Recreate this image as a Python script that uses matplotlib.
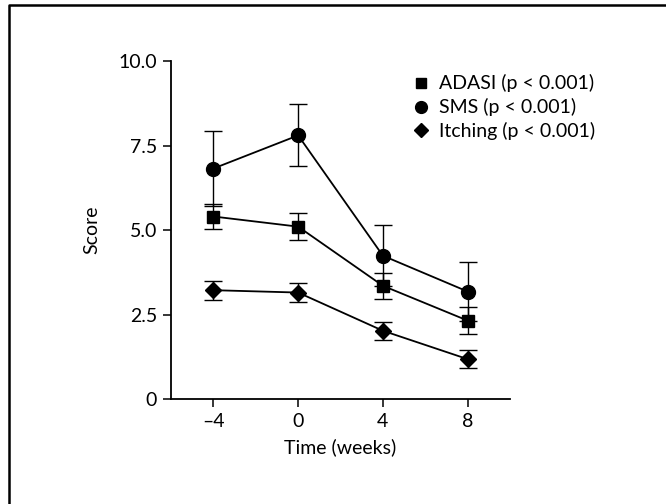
import numpy as np
import matplotlib.pyplot as plt
from matplotlib.lines import Line2D

plt.rcParams['font.family'] = ['Lato', 'DejaVu Sans']

weeks = [-4, 0, 4, 8]

adasi = [5.4, 5.1, 3.35, 2.32]
adasi_err = [0.38, 0.4, 0.38, 0.4]

sms = [6.82, 7.8, 4.24, 3.18]
sms_err = [1.12, 0.92, 0.9, 0.88]

itching = [3.22, 3.15, 2.02, 1.18]
itching_err = [0.28, 0.28, 0.27, 0.27]

labels = ['ADASI (p < 0.001)', 'SMS (p < 0.001)', 'Itching (p < 0.001)']
yticks = [0, 2.5, 5.0, 7.5, 10.0]
ytick_labels = ['0', '2.5', '5.0', '7.5', '10.0']

fs = 14

fig = plt.figure(figsize=(6.66, 5.04), dpi=100)
ax = fig.add_axes([0.2568, 0.2083, 0.509, 0.6706])

# outer frame of the figure panel
fig.add_artist(Line2D([0.013, 0.013, 1.0], [0.0, 0.99, 0.99], color='black', lw=1.8,
                      transform=fig.transFigure))

series = [
    (adasi, adasi_err, 's', 9),
    (sms, sms_err, 'o', 10),
    (itching, itching_err, 'D', 8.5),
]
for vals, err, mk, ms in series:
    ax.errorbar(weeks, vals, yerr=err, color='black', marker=mk, markersize=ms,
                lw=1.3, elinewidth=1.0, capsize=6.5, capthick=1.0)

ax.set_xlim(-6, 10)
ax.set_ylim(0, 10)
ax.set_xticks(weeks)
ax.set_xticklabels(['\u20134', '0', '4', '8'])
ax.set_yticks(yticks)
ax.set_yticklabels(ytick_labels)
ax.spines['top'].set_visible(False)
ax.spines['right'].set_visible(False)
ax.spines['left'].set_linewidth(1.3)
ax.spines['bottom'].set_linewidth(1.3)
ax.tick_params(direction='out', length=6, width=1.1, labelsize=fs, pad=4)
ax.set_xlabel('Time (weeks)', fontsize=fs, labelpad=6)
ax.set_ylabel('Score', fontsize=fs, labelpad=13)

handles = [Line2D([], [], color='black', marker=m, linestyle='none', markersize=s)
           for m, s in [('s', 7.5), ('o', 8.5), ('D', 7)]]
ax.legend(handles, labels, loc='upper left', bbox_to_anchor=(0.612, 0.864),
          bbox_transform=fig.transFigure, frameon=False, fontsize=fs,
          handlelength=0.8, handletextpad=0.5, labelspacing=0.3,
          borderaxespad=0, borderpad=0.3)

fig.savefig('out.png', dpi=100)
